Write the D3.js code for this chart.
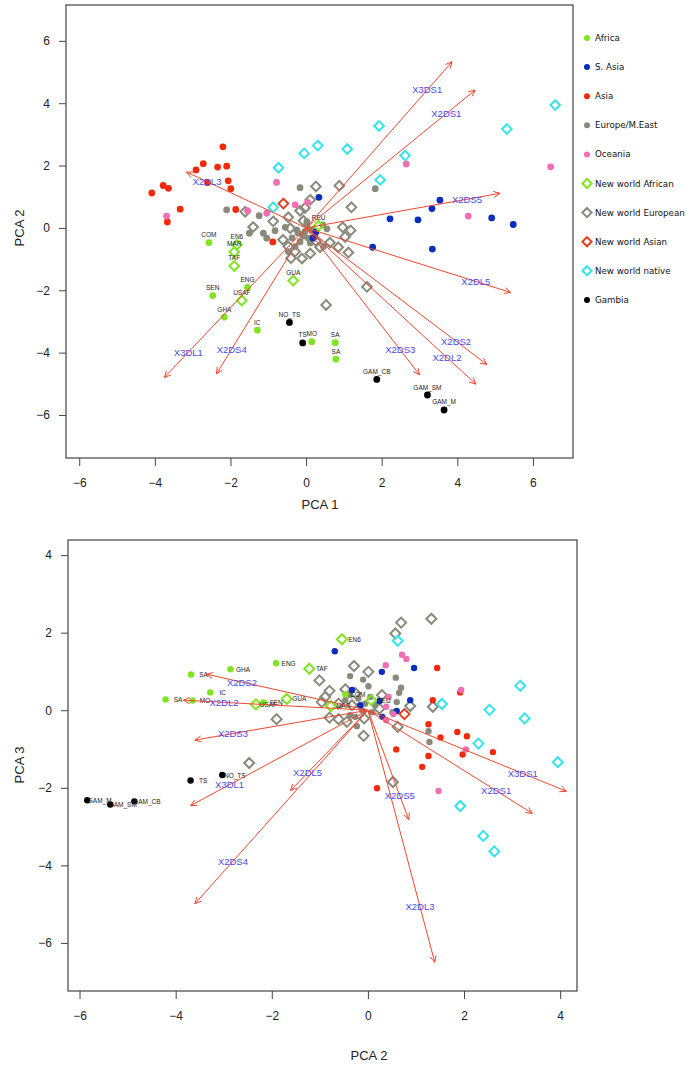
<!DOCTYPE html>
<html><head><meta charset="utf-8">
<script src="https://cdn.jsdelivr.net/npm/d3@7"></script>
<style>body{margin:0;background:#fff}svg{display:block}</style>
</head><body>
<svg id="c" width="693" height="1069"></svg>
<script>
// ---------- groups / legend ----------
const groups = ["Africa","S. Asia","Asia","Europe/M.East","Oceania","New world African","New world European","New world Asian","New world native","Gambia"];
const groupColors = ["#7EE51E","#0A2DBE","#F22A0C","#8A8A7C","#F06EB4","#7EE51E","#8A8A7C","#E2401E","#33E4EE","#000000"];
const groupShapes = ["circle","circle","circle","circle","circle","diamond","diamond","diamond","diamond","circle"];

// ---------- labelled samples (PC1, PC2, PC3) ----------
const sampleNames  = ["COM","ENG","SEN","GHA","IC","MO","SA","SA","EN6","MAR","TAF","USAF","GUA","REU","NO_TS","TS","GAM_CB","GAM_SM","GAM_M"];
const sampleGroups = ["Africa","Africa","Africa","Africa","Africa","Africa","Africa","Africa","New world African","New world African","New world African","New world African","New world African","New world African","Gambia","Gambia","Gambia","Gambia","Gambia"];
const samplePC1 = [-2.57,-1.55,-2.47,-2.16,-1.29,0.15,0.77,0.79,-1.83,-1.90,-1.90,-1.70,-0.34,0.33,-0.44,-0.09,1.87,3.21,3.65];
const samplePC2 = [-0.47,-1.91,-2.17,-2.86,-3.28,-3.65,-3.68,-4.21,-0.54,-0.77,-1.22,-2.33,-1.69,0.07,-3.03,-3.69,-4.86,-5.36,-5.84];
const samplePC3 = [0.41,1.21,0.20,1.06,0.46,0.25,0.92,0.28,1.83,0.11,1.07,0.15,0.29,0.26,-1.67,-1.81,-2.35,-2.43,-2.32];

// ---------- unlabelled samples, panel 1 (PC1, PC2) ----------
const top_Europe = [[-0.16,1.29],[1.83,1.26],[-2.10,0.58],[-1.24,0.39],[-1.50,-0.17],[-1.13,-0.17],[-1.04,-0.33],[-0.82,-0.09],[-0.55,0.02],[-0.25,-0.06],[-0.07,-0.26],[0.06,-0.33],[-0.16,-0.44],[-0.29,-0.60],[-0.47,-0.76],[0.15,-0.06],[0.02,0.10],[0.55,-0.03],[0.44,0.10],[-0.03,-0.12],[0.24,-0.28],[0.46,-0.60],[0.02,0.20],[-0.21,-0.16],[-0.37,-0.32],[0.11,-0.48]];
const top_NWEuropean = [[0.26,1.33],[0.88,1.35],[1.20,0.66],[0.11,0.90],[-0.03,0.64],[-0.16,0.55],[-0.47,0.34],[-0.87,0.21],[-1.40,0.03],[-1.61,0.52],[-0.42,-0.01],[-0.07,0.23],[0.97,0.02],[1.18,-0.08],[1.03,-0.29],[0.63,-0.47],[0.85,-0.62],[1.12,-0.79],[0.37,-0.62],[0.11,-0.82],[-0.11,-0.98],[-0.40,-0.97],[-0.47,-0.60],[-0.29,-0.76],[1.61,-1.89],[0.53,-2.47],[-0.61,-0.38],[0.26,-0.42]];
const top_Asia = [[-2.20,2.60],[-2.91,1.86],[-2.72,2.06],[-2.34,1.95],[-2.10,1.98],[-2.06,1.51],[-1.99,1.26],[-2.61,1.45],[-3.78,1.36],[-3.64,1.27],[-4.08,1.12],[-3.33,0.60],[-3.67,0.19],[-1.86,0.59],[-0.88,-0.45]];
const top_SAsia = [[0.34,0.98],[2.22,0.29],[2.96,0.26],[3.33,0.62],[3.54,0.89],[4.91,0.32],[5.48,0.11],[1.76,-0.62],[3.34,-0.68],[0.18,-0.33],[0.26,-0.13]];
const top_Oceania = [[-0.78,1.46],[-3.69,0.38],[-1.55,0.55],[-1.04,0.47],[-0.29,0.74],[0.04,0.82],[2.65,2.05],[4.29,0.38],[6.47,1.96]];
const top_NWNative = [[-0.73,1.93],[-0.05,2.39],[0.31,2.64],[1.09,2.53],[1.93,3.27],[2.62,2.32],[1.96,1.54],[5.31,3.17],[6.59,3.94],[-0.87,0.66]];
const top_NWAsian = [[-0.60,0.78]];

// ---------- unlabelled samples, panel 2 (PC2, PC3) ----------
const bot_Europe = [[-0.37,0.88],[-0.10,0.79],[0.58,0.84],[0.69,0.58],[0.65,0.45],[0.01,0.62],[-0.37,0.39],[-0.20,0.30],[-0.06,0.17],[0.05,0.34],[0.60,0.21],[-0.26,-0.17],[-0.23,-0.41],[-0.37,-0.13],[1.26,-0.54],[1.28,-0.82],[0.15,0.13],[-0.12,0.0],[0.09,-0.05],[0.51,-0.05],[-0.47,0.26]];
const bot_NWEuropean = [[0.69,2.26],[1.32,2.36],[0.57,1.98],[-0.29,1.14],[0.01,0.99],[-1.01,0.77],[-0.47,0.54],[-0.80,0.50],[-0.89,0.34],[-0.96,0.21],[-0.61,0.17],[0.29,0.39],[0.24,0.04],[0.88,0.11],[1.35,0.09],[-0.80,-0.19],[-0.61,-0.23],[-0.44,-0.30],[-0.08,-0.21],[0.62,-0.43],[-0.09,-0.66],[-1.90,-0.23],[-2.47,-1.36],[0.52,-1.85],[-0.26,0.44],[-0.33,0.13]];
const bot_Asia = [[1.44,1.09],[1.35,0.26],[1.92,0.46],[1.26,-0.36],[1.51,-0.70],[1.86,-0.56],[2.06,-0.67],[0.59,-1.01],[1.26,-1.18],[1.97,-1.14],[2.60,-1.08],[1.13,-1.46],[0.19,-2.01]];
const bot_SAsia = [[-0.69,1.52],[0.29,0.99],[0.96,1.09],[-0.33,0.52],[0.24,0.24],[0.88,0.26],[0.60,-0.02],[0.30,-0.17],[-0.16,0.13]];
const bot_Oceania = [[0.37,1.16],[0.71,1.43],[0.80,1.32],[1.94,0.52],[0.43,0.34],[0.38,0.09],[0.53,-0.10],[0.38,-0.26],[2.04,-1.01],[1.47,-2.08]];
const bot_NWNative = [[0.62,1.79],[1.54,0.16],[2.53,0.01],[3.17,0.63],[3.26,-0.21],[2.30,-0.86],[3.95,-1.34],[1.92,-2.47],[2.40,-3.24],[2.63,-3.64]];
const bot_NWAsian = [[0.76,-0.10]];

// ---------- loadings ----------
const loadingNames = ["X3DS1","X2DS1","X2DS5","X2DL3","X2DL5","X2DS2","X2DL2","X2DS3","X3DL1","X2DS4"];
const topLoadPC1 = [3.86,4.47,5.13,-3.16,5.41,4.78,4.49,3.00,-3.75,-2.37];
const topLoadPC2 = [5.33,4.42,1.11,1.79,-2.07,-4.38,-5.01,-4.71,-4.80,-4.68];
const botLoadPC2 = [4.13,3.42,0.85,1.39,-1.61,-3.36,-3.84,-3.60,-3.69,-3.60];
const botLoadPC3 = [-2.09,-2.66,-2.82,-6.50,-2.07,0.93,0.26,-0.77,-2.46,-4.99];

// ---------- ticks ----------
const topXTicks = [-6,-4,-2,0,2,4,6];
const topYTicks = [-6,-4,-2,0,2,4,6];
const botXTicks = [-6,-4,-2,0,2,4];
const botYTicks = [-6,-4,-2,0,2,4];

// ================= drawing =================
const svg = d3.select("#c");
const colorOf = g => groupColors[groups.indexOf(g)];
const shapeOf = g => groupShapes[groups.indexOf(g)];
const ARROW = "#F0462D", ALABEL = "#4A4AE6", FONT = "'Liberation Sans', Arial, sans-serif";

function mark(g, shape, color, cx, cy, r, d) {
  if (shape === "circle") {
    g.append("circle").attr("cx", cx).attr("cy", cy).attr("r", r).attr("fill", color);
  } else {
    g.append("path").attr("d", `M${cx},${cy-d}L${cx+d},${cy}L${cx},${cy+d}L${cx-d},${cy}Z`)
      .attr("fill", "none").attr("stroke", color).attr("stroke-width", 2);
  }
}

function panel(cfg) {
  const x = d3.scaleLinear().domain(cfg.xd).range([cfg.x0, cfg.x1]);
  const y = d3.scaleLinear().domain(cfg.yd).range([cfg.y1, cfg.y0]);
  const g = svg.append("g");

  // axes
  const ax = g.append("g").attr("transform", `translate(0,${cfg.y1})`)
    .call(d3.axisBottom(x).tickValues(cfg.xt).tickSize(8).tickPadding(12).tickFormat(d3.format("d")));
  const ay = g.append("g").attr("transform", `translate(${cfg.x0},0)`)
    .call(d3.axisLeft(y).tickValues(cfg.yt).tickSize(7).tickPadding(9).tickFormat(d3.format("d")));
  [ax, ay].forEach(a => {
    a.select(".domain").remove();
    a.selectAll("line").attr("stroke", "#444");
    a.selectAll("text").attr("font-family", FONT).attr("font-size", 12).attr("fill", "#222");
  });
  g.append("rect").attr("x", cfg.x0).attr("y", cfg.y0).attr("width", cfg.x1 - cfg.x0).attr("height", cfg.y1 - cfg.y0)
    .attr("fill", "none").attr("stroke", "#444").attr("stroke-width", 1.2);
  g.append("text").attr("x", cfg.xlx).attr("y", cfg.xly).attr("text-anchor", "middle")
    .attr("font-family", FONT).attr("font-size", 13).attr("fill", "#222").text(cfg.xlab);
  g.append("text").attr("transform", `translate(${cfg.ylx},${cfg.yly}) rotate(-90)`).attr("text-anchor", "middle")
    .attr("font-family", FONT).attr("font-size", 13).attr("fill", "#222").text(cfg.ylab);

  // unlabelled points
  const pts = g.append("g");
  cfg.sets.forEach(([grp, arr]) => {
    arr.forEach(p => mark(pts, shapeOf(grp), colorOf(grp), x(p[0]), y(p[1]), cfg.r, cfg.d));
  });
  // labelled points
  sampleNames.forEach((n, i) => {
    const px = x(cfg.sx[i]), py = y(cfg.sy[i]);
    mark(pts, shapeOf(sampleGroups[i]), colorOf(sampleGroups[i]), px, py, cfg.r, cfg.d);
  });
  sampleNames.forEach((n, i) => {
    const px = x(cfg.sx[i]), py = y(cfg.sy[i]);
    pts.append("text").attr("x", px + cfg.ldx).attr("y", py + cfg.ldy).attr("text-anchor", "middle")
      .attr("dominant-baseline", "central").attr("font-family", FONT).attr("font-size", 6.5)
      .attr("fill", "#222").text(n);
  });

  // loadings arrows
  const ar = g.append("g");
  loadingNames.forEach((n, i) => {
    const x0 = x(0), y0 = y(0), x1 = x(cfg.lx[i]), y1 = y(cfg.ly[i]);
    const a = Math.atan2(y1 - y0, x1 - x0), L = 7, h = Math.PI / 7;
    ar.append("line").attr("x1", x0).attr("y1", y0).attr("x2", x1).attr("y2", y1)
      .attr("stroke", ARROW).attr("stroke-width", 1);
    ar.append("path").attr("d",
      `M${x1 - L*Math.cos(a-h)},${y1 - L*Math.sin(a-h)}L${x1},${y1}L${x1 - L*Math.cos(a+h)},${y1 - L*Math.sin(a+h)}`)
      .attr("fill", "none").attr("stroke", ARROW).attr("stroke-width", 1);
  });
  loadingNames.forEach((n, i) => {
    ar.append("text").attr("x", x(cfg.lx[i] * cfg.lf)).attr("y", y(cfg.ly[i] * cfg.lf))
      .attr("text-anchor", "middle").attr("dominant-baseline", "central")
      .attr("font-family", FONT).attr("font-size", 9.5).attr("fill", ALABEL).text(n);
  });
}

panel({
  xd: [-6.35, 7.06], yd: [-7.38, 7.15], x0: 66, x1: 573, y0: 5, y1: 458,
  xt: topXTicks, yt: topYTicks, xlab: "PCA 1", ylab: "PCA 2", xlx: 320, xly: 509, ylx: 24, yly: 228,
  sets: [["Europe/M.East", top_Europe], ["New world European", top_NWEuropean], ["Asia", top_Asia],
         ["S. Asia", top_SAsia], ["Oceania", top_Oceania], ["New world native", top_NWNative], ["New world Asian", top_NWAsian]],
  sx: samplePC1, sy: samplePC2, r: 3.4, d: 4.8, ldx: 0, ldy: -8,
  lx: topLoadPC1, ly: topLoadPC2, lf: 0.83
});

panel({
  xd: [-6.24, 4.35], yd: [-7.24, 4.39], x0: 68, x1: 577, y0: 540, y1: 991,
  xt: botXTicks, yt: botYTicks, xlab: "PCA 2", ylab: "PCA 3", xlx: 369, xly: 1060, ylx: 24, yly: 765,
  sets: [["Europe/M.East", bot_Europe], ["New world European", bot_NWEuropean], ["Asia", bot_Asia],
         ["S. Asia", bot_SAsia], ["Oceania", bot_Oceania], ["New world native", bot_NWNative], ["New world Asian", bot_NWAsian]],
  sx: samplePC2, sy: samplePC3, r: 3.2, d: 5, ldx: 12.5, ldy: 0,
  lx: botLoadPC2, ly: botLoadPC3, lf: 0.78
});

// legend
const lg = svg.append("g");
groups.forEach((grp, i) => {
  const yy = 38 + i * 29.1;
  mark(lg, groupShapes[i], groupColors[i], 587, yy, 3, 4.6);
  lg.append("text").attr("x", 595).attr("y", yy).attr("dominant-baseline", "central")
    .attr("font-family", "'DejaVu Sans', Verdana, sans-serif").attr("font-size", 8.7).attr("fill", "#111")
    .text(grp);
});
</script>
</body></html>
